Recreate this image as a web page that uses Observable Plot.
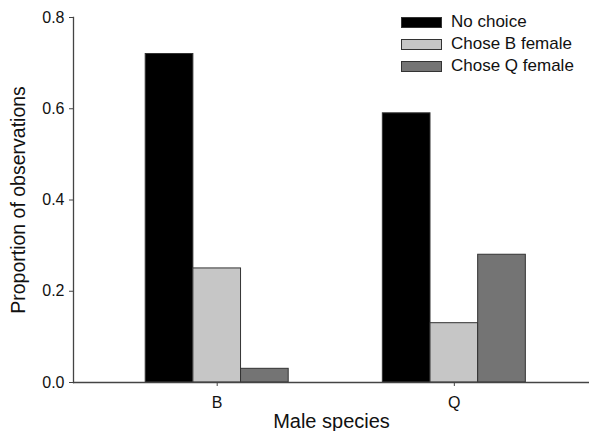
<!DOCTYPE html>
<html>
<head>
<meta charset="utf-8">
<script src="https://cdn.jsdelivr.net/npm/d3@7"></script>
<script src="https://cdn.jsdelivr.net/npm/@observablehq/plot@0.6"></script>
<style>
  html, body { margin: 0; padding: 0; background: #fff; }
  #wrap { position: relative; width: 589px; height: 431px; font-family: "Liberation Sans", Arial, Helvetica, sans-serif; }
  #legend { position: absolute; left: 401px; top: 11px; font-size: 17px; color: #111; }
  .row { display: flex; align-items: center; height: 22px; }
  .sw { width: 39px; height: 9px; border: 1px solid #333; margin-right: 9px; }
</style>
</head>
<body>
<div id="wrap"></div>
<script>
const species = ["B", "Q"];
const series = ["No choice", "Chose B female", "Chose Q female"];
const noChoice = [0.72, 0.59];
const choseB = [0.25, 0.13];
const choseQ = [0.03, 0.28];
const yTicks = [0, 0.2, 0.4, 0.6, 0.8];
const colors = ["#000000", "#c6c6c6", "#747474"];

// layout in group-step units (group i centred at x = i)
const barWidth = 0.201;
const xDomain = [-0.606, 1.57];

const seriesValues = [noChoice, choseB, choseQ];
const data = [];
species.forEach((sp, i) => series.forEach((s, j) => data.push({
  species: sp, series: s, value: seriesValues[j][i],
  x1: i + (j - 1.5) * barWidth, x2: i + (j - 0.5) * barWidth
})));

const font = '"Liberation Sans", Arial, Helvetica, sans-serif';
const chart = Plot.plot({
  width: 589,
  height: 431,
  marginLeft: 73,
  marginRight: 0,
  marginTop: 17,
  marginBottom: 49,
  style: {fontFamily: font, fontSize: "16px", color: "#111", background: "#fff"},
  x: {domain: xDomain, label: null},
  y: {domain: [0, 0.8], label: null},
  color: {domain: series, range: colors},
  marks: [
    Plot.rectY(data, {x1: "x1", x2: "x2", y: "value", fill: "series", stroke: "#333", strokeWidth: 1}),
    Plot.ruleY([0], {stroke: "#444", strokeWidth: 1.3}),
    Plot.frame({anchor: "left", stroke: "#444", strokeWidth: 1.3}),
    Plot.axisY({ticks: yTicks, tickFormat: d3.format(".1f"), tickSize: 4, tickPadding: 5, stroke: "#444", fontSize: 16, label: null}),
    Plot.axisY({ticks: [], label: "Proportion of observations", labelAnchor: "center", labelArrow: "none", labelOffset: 62, fontSize: 19.5}),
    Plot.axisX({ticks: species.map((d, i) => i), tickFormat: i => species[i], tickSize: 4, tickPadding: 10, stroke: "#444", fontSize: 16, label: null}),
    Plot.axisX({ticks: [], label: "Male species", labelAnchor: "center", labelArrow: "none", labelOffset: 45, fontSize: 20, dx: 5})
  ]
});

const wrap = document.getElementById("wrap");
wrap.appendChild(chart);

const legend = document.createElement("div");
legend.id = "legend";
series.forEach((s, j) => {
  const row = document.createElement("div");
  row.className = "row";
  const sw = document.createElement("div");
  sw.className = "sw";
  sw.style.background = colors[j];
  const lab = document.createElement("span");
  lab.textContent = s;
  row.appendChild(sw);
  row.appendChild(lab);
  legend.appendChild(row);
});
wrap.appendChild(legend);
</script>
</body>
</html>
